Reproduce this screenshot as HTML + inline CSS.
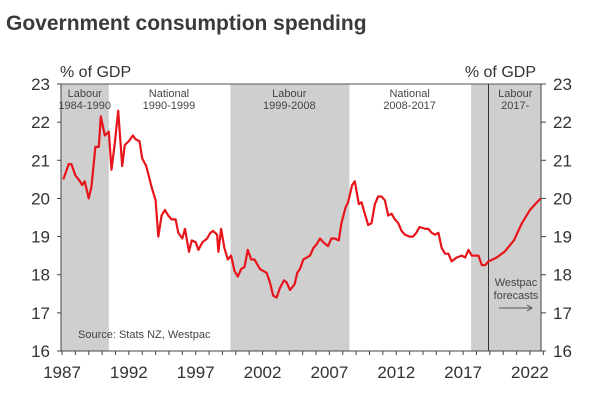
<!DOCTYPE html>
<html><head><meta charset="utf-8">
<style>
html,body{margin:0;padding:0;background:#fff;}
body{width:600px;height:408px;overflow:hidden;font-family:"Liberation Sans",sans-serif;}
</style></head>
<body>
<svg id="chart" width="600" height="408" xmlns="http://www.w3.org/2000/svg">
<text x="6" y="30" font-size="21" font-weight="bold" fill="#3a3a3a">Government consumption spending</text>
</svg>
<script>
const years=[1987.1,1987.5,1987.7,1988.0,1988.35,1988.5,1988.7,1989.0,1989.2,1989.5,1989.75,1989.9,1990.2,1990.5,1990.7,1990.95,1991.2,1991.5,1991.7,1992.0,1992.3,1992.5,1992.8,1993.0,1993.3,1993.7,1994.0,1994.2,1994.45,1994.7,1994.95,1995.2,1995.5,1995.7,1996.0,1996.2,1996.5,1996.7,1997.0,1997.2,1997.5,1997.85,1998.1,1998.3,1998.6,1998.7,1998.9,1999.15,1999.4,1999.65,1999.9,2000.15,2000.4,2000.65,2000.9,2001.15,2001.4,2001.8,2002.05,2002.3,2002.55,2002.8,2003.05,2003.3,2003.6,2003.8,2004.05,2004.4,2004.6,2004.8,2005.05,2005.3,2005.55,2005.8,2006.05,2006.3,2006.55,2006.9,2007.15,2007.4,2007.7,2007.9,2008.2,2008.4,2008.7,2008.9,2009.2,2009.4,2009.65,2009.9,2010.15,2010.4,2010.65,2010.9,2011.15,2011.4,2011.65,2011.9,2012.15,2012.4,2012.65,2013.0,2013.25,2013.5,2013.75,2014.2,2014.4,2014.65,2014.9,2015.15,2015.4,2015.65,2015.9,2016.15,2016.5,2016.9,2017.15,2017.4,2017.65,2017.9,2018.15,2018.4,2018.65,2018.9,2019.5,2020.1,2020.8,2021.4,2022.0,2022.8];
const values=[20.5,20.9,20.9,20.6,20.45,20.35,20.45,20.0,20.3,21.35,21.35,22.15,21.65,21.75,20.75,21.45,22.3,20.85,21.4,21.5,21.65,21.55,21.5,21.05,20.85,20.3,19.95,19.0,19.55,19.7,19.55,19.45,19.45,19.1,18.95,19.2,18.6,18.9,18.85,18.65,18.85,18.95,19.1,19.15,19.05,18.6,19.2,18.7,18.4,18.5,18.1,17.95,18.15,18.2,18.65,18.4,18.4,18.15,18.1,18.05,17.8,17.45,17.4,17.65,17.85,17.8,17.6,17.75,18.05,18.15,18.4,18.45,18.5,18.7,18.8,18.95,18.85,18.75,18.95,18.95,18.9,19.35,19.75,19.9,20.35,20.45,19.85,19.9,19.6,19.3,19.35,19.85,20.05,20.05,19.95,19.55,19.6,19.45,19.35,19.15,19.05,19.0,19.0,19.1,19.25,19.2,19.2,19.1,19.05,19.1,18.7,18.55,18.55,18.35,18.45,18.5,18.45,18.65,18.5,18.5,18.5,18.25,18.25,18.35,18.45,18.6,18.9,19.35,19.7,20.0];
const yTicks=[16,17,18,19,20,21,22,23];
const xTickLabels=[1987,1992,1997,2002,2007,2012,2017,2022];
const shadeStarts=[1986.9,1999.6,2017.6];
const shadeEnds=[1990.5,2008.5,2023.0];
const eraNames=["Labour","National","Labour","National","Labour"];
const eraYears=["1984-1990","1990-1999","1999-2008","2008-2017","2017-"];
const eraCenters=[1988.7,1995.0,2004.0,2013.0,2020.9];

const L=61,R=541,T=84,B=351;
const X=y=>62+(y-1987)*13.37;
const Y=v=>B-(v-16)*(B-T)/7;
const svg=document.getElementById('chart');
const NS='http://www.w3.org/2000/svg';
function mk(tag,attrs,parent){const e=document.createElementNS(NS,tag);for(const k in attrs)e.setAttribute(k,attrs[k]);(parent||svg).appendChild(e);return e;}

shadeStarts.forEach((s,i)=>{
  const r=mk('rect',{x:X(s),y:T,width:Math.min(X(shadeEnds[i]),R)-X(s),height:B-T,fill:'#cfcfcf'});
  
  
});
mk('line',{x1:L,y1:T,x2:R,y2:T,stroke:'#555','stroke-width':1});
const vl=mk('line',{x1:X(2018.9),y1:T,x2:X(2018.9),y2:B,stroke:'#333','stroke-width':1});



eraNames.forEach((n,i)=>{
  const t=mk('text',{x:X(eraCenters[i]),y:T+13,'font-size':11,'text-anchor':'middle',fill:'#444'});
  t.textContent=n;
  
  
  const t2=mk('text',{x:X(eraCenters[i]),y:T+25,'font-size':11,'text-anchor':'middle',fill:'#444'});
  t2.textContent=eraYears[i];
  
  
});

// axes
mk('line',{x1:L,y1:T,x2:L,y2:B,stroke:'#444'});
mk('line',{x1:R,y1:T,x2:R,y2:B,stroke:'#444'});
mk('line',{x1:L,y1:B,x2:R,y2:B,stroke:'#444'});
for(let y=1987;y<=2023;y++){mk('line',{x1:X(y),y1:B,x2:X(y),y2:B+4,stroke:'#444'});}
yTicks.forEach(v=>{
  mk('line',{x1:L-4,y1:Y(v),x2:L,y2:Y(v),stroke:'#444'});
  mk('line',{x1:R,y1:Y(v),x2:R+5,y2:Y(v),stroke:'#444'});
  const a=mk('text',{x:50,y:Y(v)+6,'font-size':17,'text-anchor':'end',fill:'#333'});a.textContent=v;
  
  
  const b=mk('text',{x:553,y:Y(v)+6,'font-size':17,fill:'#333'});b.textContent=v;
  
  
});
xTickLabels.forEach(v=>{
  const t=mk('text',{x:X(v),y:378,'font-size':17,'text-anchor':'middle',fill:'#333'});t.textContent=v;
  
  
});
const u1=mk('text',{x:60,y:77,'font-size':16,fill:'#333'});u1.textContent='% of GDP';


const u2=mk('text',{x:536,y:77,'font-size':16,'text-anchor':'end',fill:'#333'});u2.textContent='% of GDP';



const src=mk('text',{x:78,y:338,'font-size':11,fill:'#444'});src.textContent='Source: Stats NZ, Westpac';


const w1=mk('text',{x:516,y:286,'font-size':11,'text-anchor':'middle',fill:'#444'});w1.textContent='Westpac';


const w2=mk('text',{x:516,y:299,'font-size':11,'text-anchor':'middle',fill:'#444'});w2.textContent='forecasts';


const ar=mk('path',{d:'M499 308 H532 M527 305 L532 308 L527 311',stroke:'#555',fill:'none','stroke-width':1});



const d=years.map((y,i)=>(i?'L':'M')+X(y).toFixed(1)+' '+Y(values[i]).toFixed(1)).join(' ');
const line=mk('path',{d:d,stroke:'#e8141c',fill:'none','stroke-width':2.2,'stroke-linejoin':'round'});


</script>
</body></html>
